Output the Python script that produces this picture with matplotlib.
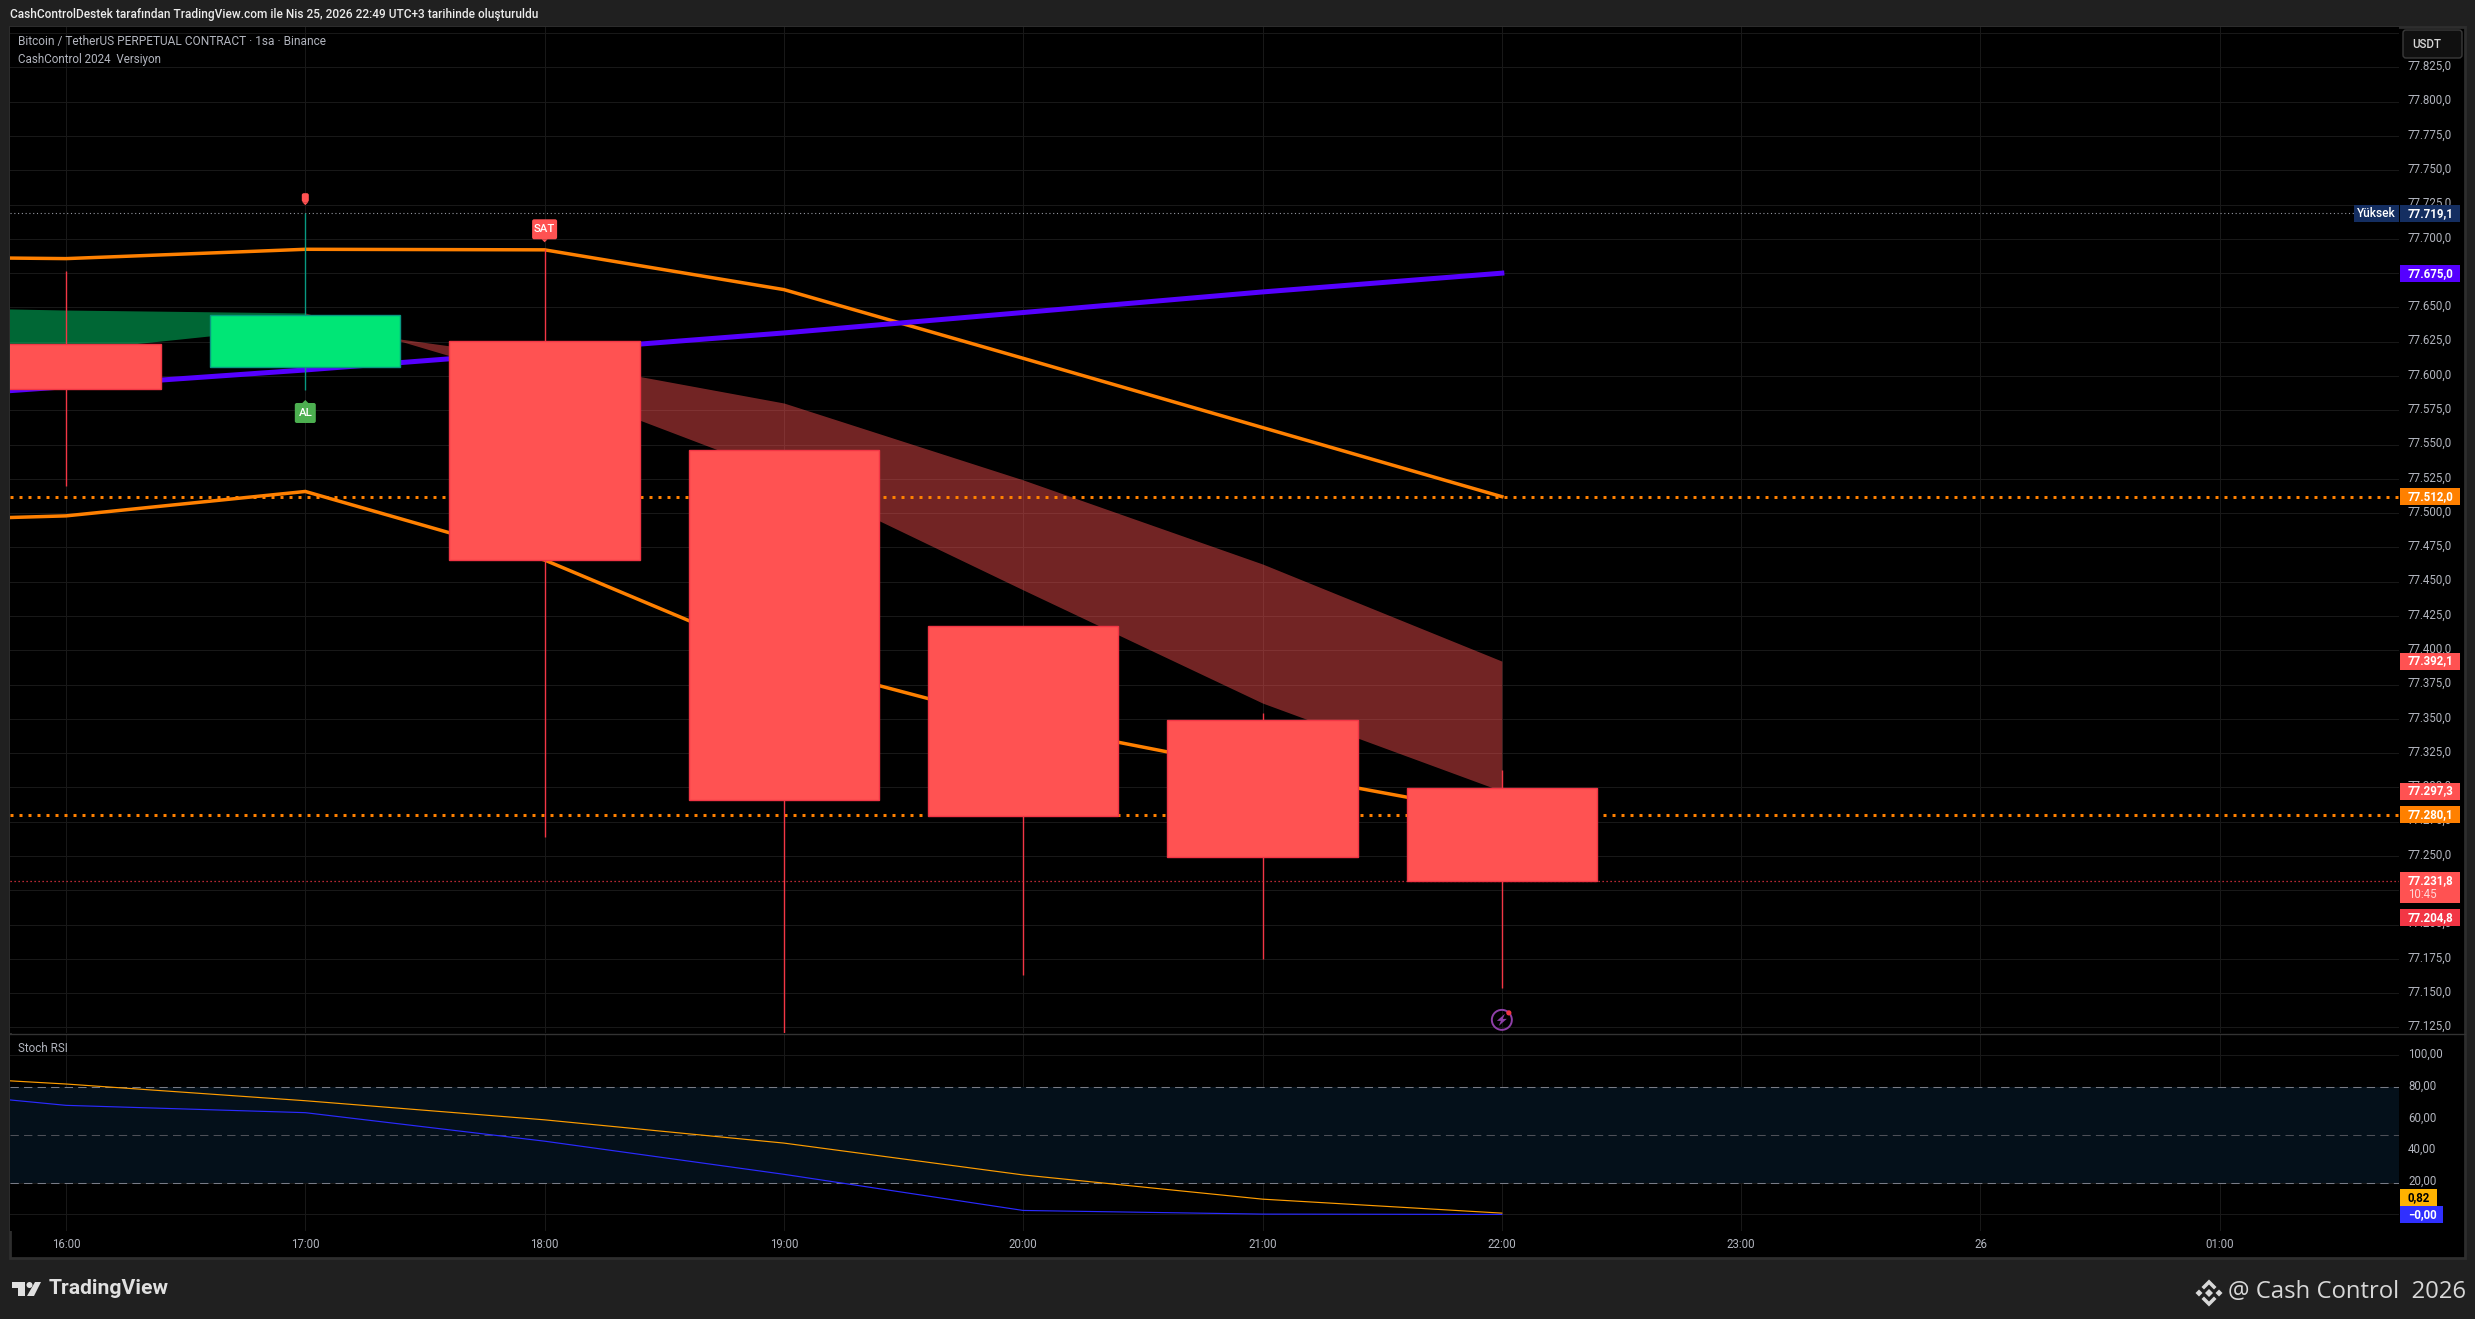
import matplotlib
matplotlib.use('Agg')
import matplotlib.pyplot as plt
from matplotlib.patches import Rectangle, FancyBboxPatch, Polygon, Circle
from matplotlib.transforms import ScaledTranslation

W, H = 2475, 1319

# hours on the time axis (24 = 26 Nisan 00:00), 15:00 sits just off the left edge
hours = [15, 16, 17, 18, 19, 20, 21, 22]
tick_hours = [16, 17, 18, 19, 20, 21, 22, 23, 24, 25]
tick_names = ['16:00', '17:00', '18:00', '19:00', '20:00', '21:00', '22:00', '23:00', '26', '01:00']

# candles
candle_hours = [16, 17, 18, 19, 20, 21, 22]
opens = [77623.4, 77606.8, 77625.5, 77545.7, 77417.9, 77349.4, 77299.6]
closes = [77590.3, 77644.5, 77466.0, 77290.8, 77279.0, 77249.3, 77231.8]
highs = [77676.6, 77719.1, 77692.4, 77545.7, 77417.9, 77354.0, 77312.7]
lows = [77519.8, 77589.8, 77264.0, 77121.0, 77163.0, 77175.0, 77154.0]

# indicator lines
purple_line = [77579.8, 77592.2, 77604.4, 77617.9, 77631.4, 77646.3, 77661.3, 77675.0]
upper_band = [77687.3, 77685.6, 77692.4, 77692.0, 77663.0, 77612.9, 77562.4, 77512.0]
lower_band = [77492.9, 77498.0, 77515.8, 77465.8, 77392.5, 77346.5, 77312.3, 77280.1]
cloud_a = [77651.5, 77648.1, 77646.0, 77594.2, 77527.8, 77444.0, 77361.5, 77297.3]
cloud_b = [77599.5, 77618.3, 77636.5, 77612.4, 77580.3, 77524.2, 77462.9, 77392.1]

high_level = 77719.1
low_level = 77204.8
last_price = 77231.8
orange_levels = [77512.0, 77280.1]
price_ticks = list(range(77125, 77851, 25))

# stoch rsi
stoch_k = [83.0, 68.5, 63.9, 46.0, 25.2, 2.5, 0.2, 0.0]
stoch_d = [90.4, 81.9, 71.4, 59.4, 44.8, 24.8, 9.6, 0.82]
stoch_ticks = [0, 20, 40, 60, 80, 100]

PAGE = '#202020'
GRID = '#181818'
TICK = '#b2b5be'
RED = '#ff5252'
RED_EDGE = '#f23645'
GREEN = '#00e676'
GREEN_EDGE = '#089981'
ORANGE = '#ff8000'
PURPLE = '#5500ff'

plt.rcParams['font.family'] = ['Roboto', 'DejaVu Sans']


def px_axes(fig, left, top, right, bottom, **kw):
    """Axes placed by pixel edges, counted from the top left of the image."""
    return fig.add_axes([left/W, 1 - bottom/H, (right-left)/W, (bottom-top)/H], **kw)


def nokta(deger, ondalik):
    """Turkish number format: 77.825,0"""
    s = f'{deger:,.{ondalik}f}'
    return s.replace(',', 'X').replace('.', ',').replace('X', '.')


def to_px(ax, x, y):
    xd, yd = ax.transData.transform((x, y))
    return xd, H - yd


def tag(ax, value, text, color, w=60, h=17, fg='white', shift=0):
    """Coloured price tag on the right hand scale."""
    y = to_px(ax, 16, value)[1] + shift
    over.add_patch(Rectangle((2400, y-h/2), w, h, fc=color, lw=0))
    over.text(2408, y, text, color=fg, fontsize=8.3, fontweight='bold', va='center', ha='left')


def signal(cx, cy, w, h, color, text, tail):
    over.add_patch(FancyBboxPatch((cx-w/2+2, cy-h/2+2), w-4, h-4, boxstyle='round,pad=2',
                                  fc=color, lw=0))
    over.add_patch(Polygon([(cx-3, cy+tail*h/2), (cx+3, cy+tail*h/2), (cx, cy+tail*(h/2+3))],
                           fc=color, lw=0))
    if text:
        over.text(cx, cy, text, color='white', fontsize=8.2, fontweight='medium', ha='center', va='center')


fig = plt.figure(figsize=(W/100, H/100), dpi=100, facecolor=PAGE)

# dark panel behind everything
back = px_axes(fig, 0, 0, W, H, zorder=-1)
back.set_xlim(0, W)
back.set_ylim(H, 0)
back.axis('off')
back.add_patch(Rectangle((10, 27), 2455, 1231, fc='black', ec='#2e2e2e', lw=2))

ax = px_axes(fig, 10, 27, 2399, 1033, facecolor='black')
ax2 = px_axes(fig, 10, 1034, 2399, 1231, facecolor='black')
for a in (ax, ax2):
    a.set_xlim(15.766, 25.749)
    a.set_axisbelow(True)
    a.grid(True, color=GRID, lw=0.75)
    a.yaxis.tick_right()
    a.tick_params(axis='both', length=0, labelcolor=TICK, labelsize=8.3)
    a.tick_params(axis='y', pad=6.5)
    a.set_xticks(tick_hours)
    for s in a.spines.values():
        s.set_visible(False)

# price pane, the 77.850 label is behind the USDT button in the original
ax.set_ylim(77120.9, 77854.5)
ax.set_yticks(price_ticks)
ax.set_yticklabels(['' if p == 77850 else nokta(p, 1) for p in price_ticks])
ax.tick_params(axis='x', labelbottom=False)

ax.fill_between(hours[:3], cloud_a[:3], cloud_b[:3], color=GREEN, alpha=0.45, lw=0, zorder=3)
ax.fill_between(hours[2:], cloud_a[2:], cloud_b[2:], color=RED, alpha=0.45, lw=0, zorder=3)
ax.plot(hours, upper_band, color=ORANGE, lw=2.5, zorder=4, solid_joinstyle='miter')
ax.plot(hours, lower_band, color=ORANGE, lw=2.5, zorder=4, solid_joinstyle='miter')
ax.plot(hours, purple_line, color=PURPLE, lw=3.6, zorder=4)
for lvl in orange_levels:
    ax.axhline(lvl, color=ORANGE, lw=2.16, ls=(0, (1, 2)), zorder=4.5)
ax.axhline(high_level, xmax=0.981, color='#9598a1', lw=0.8, ls=(0, (1, 2.4)), zorder=4.5)
ax.axhline(last_price, color=RED_EDGE, lw=0.9, ls=(0, (1, 2.2)), zorder=4.5)

for h, o, c, hi, lo in zip(candle_hours, opens, closes, highs, lows):
    up = c > o
    ax.vlines(h, lo, hi, color=GREEN_EDGE if up else RED_EDGE, lw=1, zorder=5)
    ax.bar(h, abs(c-o), bottom=min(o, c), width=0.795, color=GREEN if up else RED,
           edgecolor=GREEN_EDGE if up else RED_EDGE, lw=1, zorder=6)

# stoch rsi pane
ax2.set_ylim(-10.4, 113.3)
ax2.set_yticks(stoch_ticks)
ax2.set_yticklabels([nokta(v, 2) for v in stoch_ticks])
ax2.set_xticklabels(tick_names)
ax2.tick_params(axis='x', pad=4.8)
ax2.axhspan(20, 80, color='#04101a', lw=0, zorder=1.5)
ax2.axhline(80, color='#787b86', lw=0.75, ls=(0, (8, 5)), zorder=3)
ax2.axhline(50, color='#4e5058', lw=0.75, ls=(0, (8, 5)), zorder=3)
ax2.axhline(20, color='#787b86', lw=0.75, ls=(0, (8, 5)), zorder=3)
ax2.plot(hours, stoch_d, color='#ff9d00', lw=0.85, zorder=4)
ax2.plot(hours, stoch_k, color='#2a2aff', lw=0.85, zorder=4)

# scale labels sit a little above their grid line
up_shift = ScaledTranslation(0, 2.5/100, fig.dpi_scale_trans)
for a in (ax, ax2):
    for t in a.get_yticklabels():
        t.set_transform(t.get_transform() + up_shift)

# everything on top, in image pixels
over = px_axes(fig, 0, 0, W, H, zorder=5)
over.set_xlim(0, W)
over.set_ylim(H, 0)
over.axis('off')
over.patch.set_alpha(0)

over.plot([10, 2465], [1033.5, 1033.5], color='#333333', lw=1)

over.text(10, 14.5, 'CashControlDestek tarafından TradingView.com ile Nis 25, 2026 22:49 UTC+3 tarihinde oluşturuldu',
          color='#ececec', fontsize=8.55, fontweight='medium', va='center')
over.text(18, 42, 'Bitcoin / TetherUS PERPETUAL CONTRACT · 1sa · Binance', color=TICK, fontsize=8.6, va='center')
over.text(18, 59, 'CashControl 2024  Versiyon', color=TICK, fontsize=8.4, va='center')
over.text(18, 1049, 'Stoch RSI', color=TICK, fontsize=8.4, va='center')

# USDT button
over.add_patch(FancyBboxPatch((2406, 33), 53, 22, boxstyle='round,pad=3', fc='#101010', ec='#3a3a3a', lw=1))
over.text(2412, 44, 'USDT', color='#d8d8d8', fontsize=8.3, fontweight='medium', va='center')

# price tags
tag(ax, high_level, nokta(high_level, 1), '#142e61', shift=0.7)
yy = to_px(ax, 16, high_level)[1] + 0.7
over.add_patch(Rectangle((2354, yy-8.5), 45, 17, fc='#142e61', lw=0))
over.text(2376.5, yy, 'Yüksek', color='white', fontsize=8.6, fontweight='medium', ha='center', va='center')
tag(ax, purple_line[-1], nokta(purple_line[-1], 1), PURPLE)
tag(ax, orange_levels[0], nokta(orange_levels[0], 1), ORANGE)
tag(ax, cloud_b[-1], nokta(cloud_b[-1], 1), RED)
tag(ax, cloud_a[-1], nokta(cloud_a[-1], 1), RED)
tag(ax, orange_levels[1], nokta(orange_levels[1], 1), ORANGE)
y_last = to_px(ax, 16, last_price)[1]
over.add_patch(Rectangle((2400, y_last-9), 60, 31, fc=RED, lw=0))
over.text(2408, y_last, nokta(last_price, 1), color='white', fontsize=8.3, fontweight='bold', va='center')
over.text(2408, y_last+13.5, '10:45', color='#ffd6d6', fontsize=8.3, va='center')
tag(ax, low_level, nokta(low_level, 1), RED_EDGE)
tag(ax2, stoch_d[-1], nokta(stoch_d[-1], 2), '#ffb300', w=37, fg='black', shift=-15.7)
tag(ax2, stoch_k[-1], '−0,00', '#3030ff', w=43, shift=0.5)

# signals
x17, y17 = to_px(ax, 17, highs[1])
signal(x17, y17-15, 7, 9, '#ff5252', '', 1)
x18, y18 = to_px(ax, 18, highs[2])
signal(x18, y18-20, 25, 20, RED, 'SAT', 1)
x17, y17 = to_px(ax, 17, lows[1])
signal(x17, y17+23, 21, 20, '#4caf50', 'AL', -1)

# bolt icon under the last candle
bx, by = to_px(ax, 22, 77121)
by -= 13
over.add_patch(Circle((bx, by), 10, fc='none', ec='#8e3fa8', lw=1.4))
over.add_patch(Polygon([(bx+3, by-6), (bx-5, by+1), (bx-1, by+1), (bx-3, by+6), (bx+5, by-1), (bx+1, by-1)],
                       fc='#8e3fa8', lw=0))
over.add_patch(Circle((bx+7, by-7), 2.6, fc=RED_EDGE, lw=0))

# TradingView logo
LOGO = '#e0e0e0'
over.add_patch(Polygon([(12, 1282), (25, 1282), (25, 1296), (18, 1296), (18, 1288), (12, 1288)], fc=LOGO, lw=0))
over.add_patch(Circle((29.5, 1285), 3, fc=LOGO, lw=0))
over.add_patch(Polygon([(35, 1282), (41, 1282), (34, 1296), (27, 1296)], fc=LOGO, lw=0))
over.text(49, 1289, 'TradingView', color=LOGO, fontsize=15.2, fontweight='bold', va='center')

# Binance mark and signature
cx, cy = 2209, 1293
ICON = '#d8d8d8'
over.add_patch(Polygon([(cx, cy-4), (cx+4, cy), (cx, cy+4), (cx-4, cy)], fc=ICON, lw=0))
over.add_patch(Polygon([(cx-13.5, cy), (cx-10, cy-3.5), (cx-6.5, cy), (cx-10, cy+3.5)], fc=ICON, lw=0))
over.add_patch(Polygon([(cx+13.5, cy), (cx+10, cy-3.5), (cx+6.5, cy), (cx+10, cy+3.5)], fc=ICON, lw=0))
over.add_patch(Polygon([(cx, cy-13.5), (cx+7.5, cy-6), (cx+5, cy-3.5), (cx, cy-8.5), (cx-5, cy-3.5), (cx-7.5, cy-6)],
                       fc=ICON, lw=0))
over.add_patch(Polygon([(cx, cy+13.5), (cx+7.5, cy+6), (cx+5, cy+3.5), (cx, cy+8.5), (cx-5, cy+3.5), (cx-7.5, cy+6)],
                       fc=ICON, lw=0))
over.text(2466, 1292, '@ Cash Control  2026', color=ICON, fontsize=17.2, family='Open Sans', ha='right', va='center')

fig.savefig('out.png', dpi=100, facecolor=PAGE)
